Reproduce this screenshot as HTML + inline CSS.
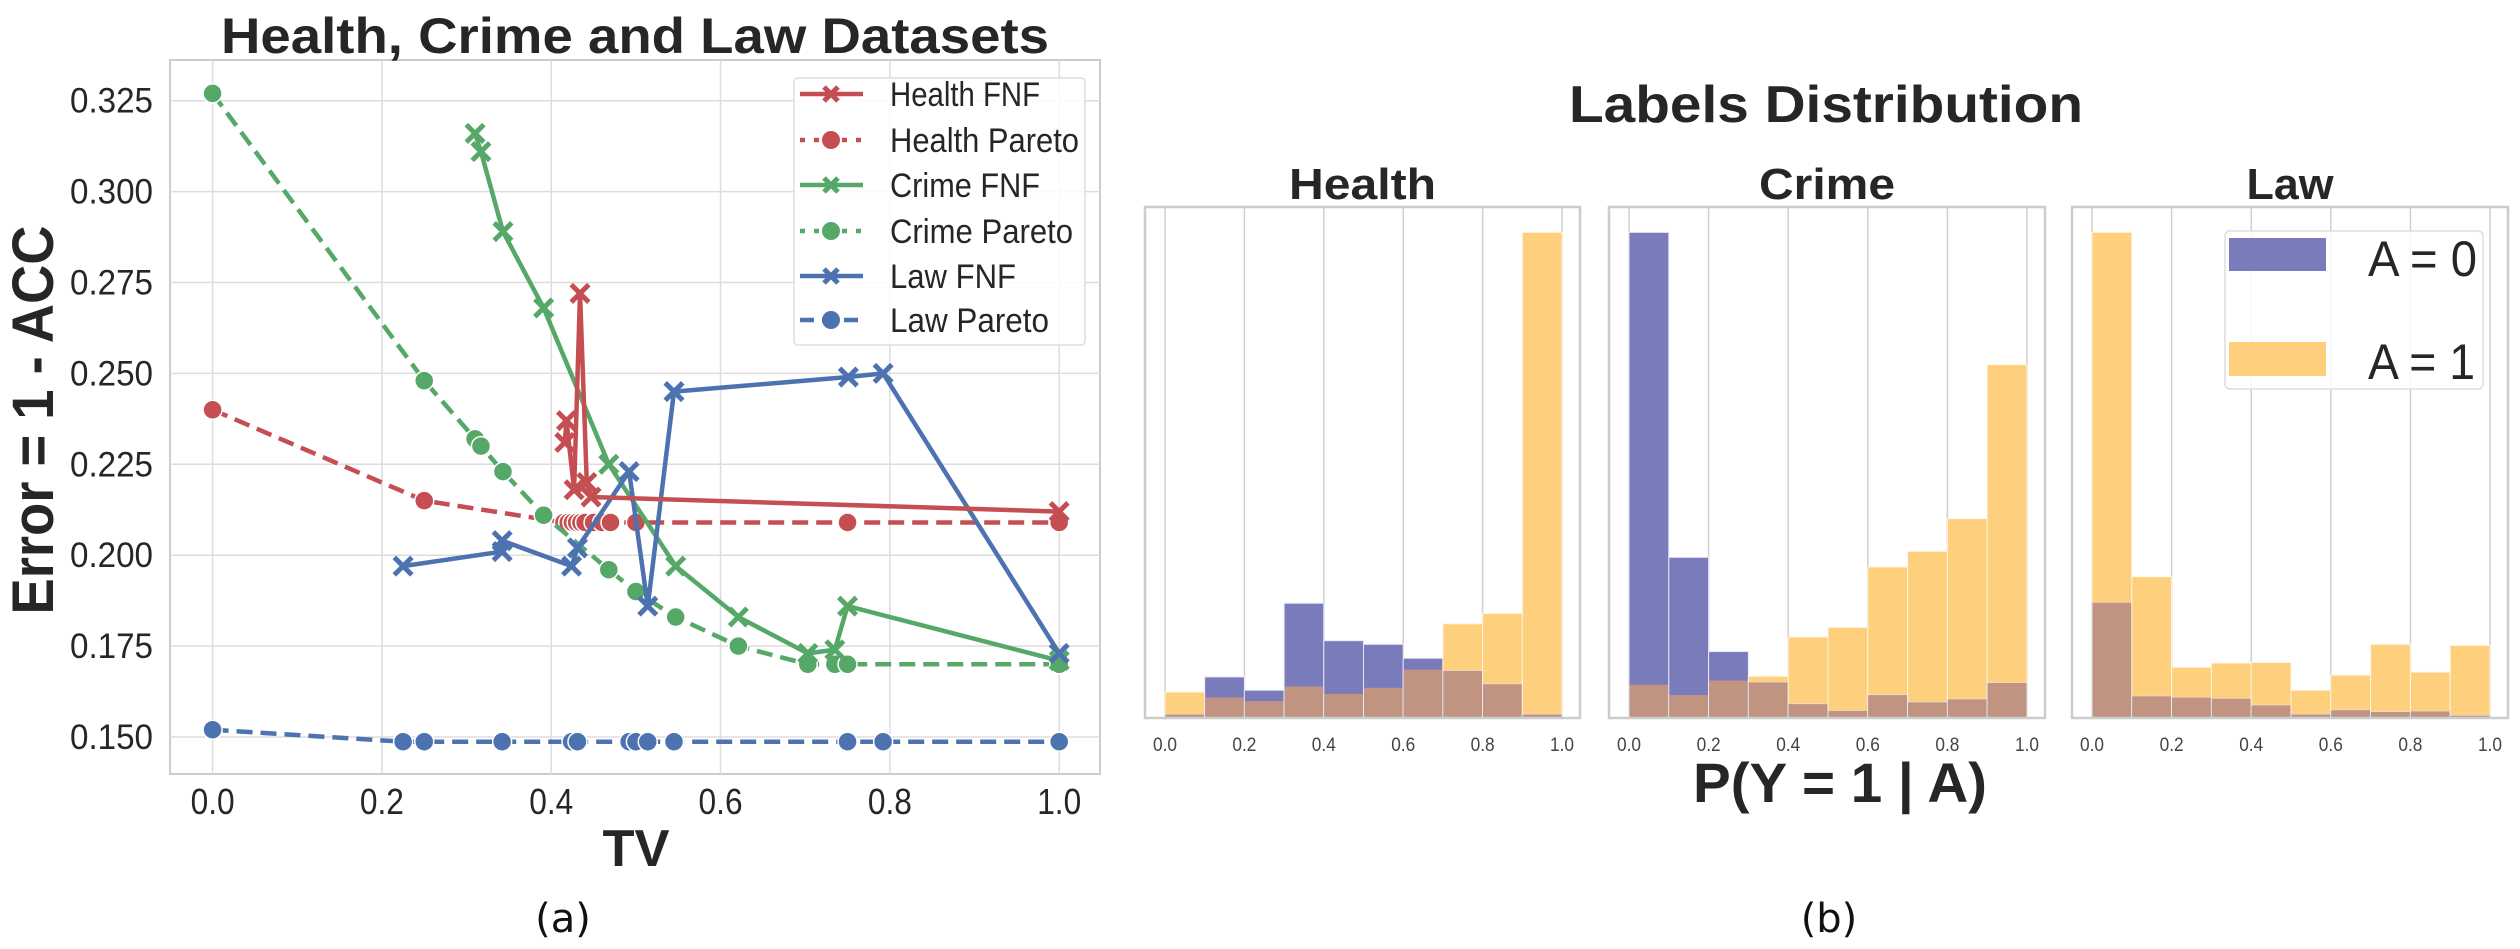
<!DOCTYPE html>
<html><head><meta charset="utf-8">
<style>
html,body{margin:0;padding:0;background:#fff;}
svg{display:block;font-family:"Liberation Sans",Arial,sans-serif;}
</style></head>
<body>
<svg id="fig" width="2520" height="949" viewBox="0 0 2520 949" xmlns="http://www.w3.org/2000/svg">
  <g id="left"></g>
  <g id="right"></g>
</svg>
<script>
// ---------- Left chart data ----------
const healthFnfX = [0.416,0.418,0.427,0.434,0.442,0.447,1.0];
const healthFnfY = [0.231,0.237,0.218,0.272,0.220,0.216,0.212];
const healthParX = [0.0,0.25,0.415,0.42,0.425,0.43,0.435,0.44,0.45,0.46,0.47,0.5,0.75,1.0];
const healthParY = [0.240,0.215,0.209,0.209,0.209,0.209,0.209,0.209,0.209,0.209,0.209,0.209,0.209,0.209];
const crimeFnfX = [0.310,0.317,0.343,0.391,0.468,0.547,0.621,0.703,0.735,0.750,1.0];
const crimeFnfY = [0.316,0.311,0.289,0.268,0.225,0.197,0.183,0.173,0.174,0.186,0.171];
const crimeParX = [0.0,0.25,0.310,0.317,0.343,0.391,0.468,0.5,0.547,0.621,0.703,0.735,0.750,1.0];
const crimeParY = [0.327,0.248,0.232,0.230,0.223,0.211,0.196,0.190,0.183,0.175,0.170,0.170,0.170,0.170];
const lawFnfX = [0.225,0.342,0.342,0.424,0.431,0.492,0.514,0.545,0.751,0.792,1.0];
const lawFnfY = [0.197,0.201,0.204,0.197,0.202,0.223,0.186,0.245,0.249,0.250,0.173];
const lawParX = [0.0,0.225,0.25,0.342,0.424,0.431,0.492,0.5,0.514,0.545,0.75,0.792,1.0];
const lawParY = [0.152,0.1487,0.1487,0.1487,0.1487,0.1487,0.1487,0.1487,0.1487,0.1487,0.1487,0.1487,0.1487];
const xTicks = [0.0,0.2,0.4,0.6,0.8,1.0];
const yTicks = [0.150,0.175,0.200,0.225,0.250,0.275,0.300,0.325];

// ---------- Right chart data (10 bins, relative heights) ----------
const binEdges = [0,0.1,0.2,0.3,0.4,0.5,0.6,0.7,0.8,0.9,1.0];
const healthA0 = [6,68,46,190,128,122,99,78,56,6];
const healthA1 = [43,34,28,52,40,50,80,156,173,804];
const crimeA0 = [804,266,110,59,23,12,38,26,31,58];
const crimeA1 = [55,38,62,69,134,150,250,276,330,585];
const lawA0 = [191,36,34,32,21,6,13,10,11,4];
const lawA1 = [804,234,84,91,92,46,71,122,76,120];
const histTicks = [0.0,0.2,0.4,0.6,0.8,1.0];

const NS="http://www.w3.org/2000/svg";
function mk(parent,tag,attrs,text){const e=document.createElementNS(NS,tag);for(const k in attrs)e.setAttribute(k,attrs[k]);if(text!==undefined)e.textContent=text;parent.appendChild(e);return e;}
function fit(el,len){el.setAttribute('textLength',len);el.setAttribute('lengthAdjust','spacingAndGlyphs');}

// ---------- Left chart ----------
const L=document.getElementById('left');
const ax={l:170,r:1100,t:60,b:774};
const sx=v=>212.6+v*846.6;
const sy=v=>737-(v-0.150)/0.025*90.9;
let e;
e=mk(L,'rect',{x:ax.l,y:ax.t,width:ax.r-ax.l,height:ax.b-ax.t,fill:'#fff',stroke:'#cccccc','stroke-width':2});


xTicks.forEach(t=>{
  e=mk(L,'line',{x1:sx(t),x2:sx(t),y1:ax.t,y2:ax.b,stroke:'#dddddd','stroke-width':1.5});
  
  
  e=mk(L,'text',{x:sx(t),y:814,'font-size':36,'text-anchor':'middle',fill:'#262626'},t.toFixed(1));
  fit(e,44);
  
  
});
yTicks.forEach(t=>{
  e=mk(L,'line',{x1:ax.l,x2:ax.r,y1:sy(t),y2:sy(t),stroke:'#dddddd','stroke-width':1.5});
  
  
  e=mk(L,'text',{x:153,y:sy(t)+12,'font-size':35,'text-anchor':'end',fill:'#262626'},t.toFixed(3));
  fit(e,83);
  
  
});
function series(xs,ys,color,dash,marker,name){
  const g=mk(L,'g',{});
  
  
  const pts=xs.map((x,i)=>sx(x)+','+sy(ys[i])).join(' ');
  const attrs={points:pts,fill:'none',stroke:color,'stroke-width':4.5,'stroke-linejoin':'round'};
  if(dash)attrs['stroke-dasharray']=dash;
  mk(g,'polyline',attrs);
  xs.forEach((x,i)=>{
    const cx=sx(x),cy=sy(ys[i]);
    if(marker==='o'){
      e=mk(g,'circle',{cx:cx,cy:cy,r:9.5,fill:color,stroke:'#fff','stroke-width':1.5});
    } else {
      e=mk(g,'path',{d:`M${cx-7},${cy-7}L${cx+7},${cy+7}M${cx-7},${cy+7}L${cx+7},${cy-7}`,stroke:color,'stroke-width':5,'stroke-linecap':'square'});
    }
    
    
  });
}
const RED='#c44e52',GREEN='#55a868',BLUE='#4c72b0';
series(healthParX,healthParY,RED,'16,8','o','health-pareto-series');
series(crimeParX,crimeParY,GREEN,'16,8','o','crime-pareto-series');
series(lawParX,lawParY,BLUE,'16,8','o','law-pareto-series');
series(crimeFnfX,crimeFnfY,GREEN,null,'x','crime-fnf-series');
series(lawFnfX,lawFnfY,BLUE,null,'x','law-fnf-series');
series(healthFnfX,healthFnfY,RED,null,'x','health-fnf-series');
// legend
const lg=mk(L,'g',{});


mk(lg,'rect',{x:794,y:78,width:291,height:267,rx:4,fill:'#fff','fill-opacity':0.85,stroke:'#dddddd','stroke-width':1.5});
const legItems=[['Health FNF',RED,null,'x',150],['Health Pareto',RED,'5,9','o',189],['Crime FNF',GREEN,null,'x',150],['Crime Pareto',GREEN,'5,9','o',183],['Law FNF',BLUE,null,'x',126],['Law Pareto',BLUE,'14,8','o',159]];
const legY=[94,140,185,231,276,320];
legItems.forEach((it,i)=>{
  const g=mk(lg,'g',{});
  
  
  const y=legY[i];
  const a={x1:800,x2:863,y1:y,y2:y,stroke:it[1],'stroke-width':4.5};
  if(it[2])a['stroke-dasharray']=it[2];
  mk(g,'line',a);
  if(it[3]==='o')mk(g,'circle',{cx:831,cy:y,r:9,fill:it[1]});
  else mk(g,'path',{d:`M824,${y-7}L838,${y+7}M824,${y+7}L838,${y-7}`,stroke:it[1],'stroke-width':5});
  const t=mk(g,'text',{x:890,y:y+12,'font-size':34,fill:'#262626'},it[0]);
  fit(t,it[4]);
});
e=mk(L,'text',{x:635,y:53,'font-size':50,'font-weight':'bold','text-anchor':'middle',fill:'#262626'},'Health, Crime and Law Datasets');
fit(e,828);


e=mk(L,'text',{x:0,y:0,'font-size':58,'font-weight':'bold','text-anchor':'middle',fill:'#262626',transform:'translate(53,420) rotate(-90)'},'Error = 1 - ACC');
fit(e,389);


e=mk(L,'text',{x:636,y:866,'font-size':52,'font-weight':'bold','text-anchor':'middle',fill:'#262626'},'TV');
fit(e,67);


e=mk(L,'text',{x:563,y:932,'font-size':40,'text-anchor':'middle',fill:'#111',style:'font-family:"DejaVu Sans",sans-serif'},'(a)');



// ---------- Right chart ----------
const R=document.getElementById('right');
const panels=[['Health',1145,1580,healthA0,healthA1,147],['Crime',1609,2045,crimeA0,crimeA1,136],['Law',2072,2508,lawA0,lawA1,87]];
const hTop=207,hBot=718,yMaxU=846;
panels.forEach(p=>{
  const [name,l,r,a0,a1,tl]=p;
  const g=mk(R,'g',{});
  
  
  const hx=v=>l+20+v*(r-l-38);
  const hy=v=>hBot-v/yMaxU*(hBot-hTop);
  mk(g,'rect',{x:l,y:hTop,width:r-l,height:hBot-hTop,fill:'#fff'});
  histTicks.forEach(t=>{
    e=mk(g,'line',{x1:hx(t),x2:hx(t),y1:hTop,y2:hBot,stroke:'#d0d0d0','stroke-width':1.5});
    
    
    e=mk(g,'text',{x:hx(t),y:751,'font-size':19,'text-anchor':'middle',fill:'#444'},t.toFixed(1));
    fit(e,24);
    
    
  });
  for(let i=0;i<10;i++){
    const x0=hx(binEdges[i]),x1=hx(binEdges[i+1]);
    const b=a0[i],o=a1[i];
    e=mk(g,'rect',{x:x0,y:hy(o),width:x1-x0,height:hBot-hy(o),fill:'#fed07e',stroke:'#fff4e0','stroke-width':1});
    
    
    e=mk(g,'rect',{x:x0,y:hy(b),width:x1-x0,height:hBot-hy(b),fill:'#7a7bba',stroke:'#e8e8f4','stroke-width':1});
    
    
    const m=Math.min(b,o);
    e=mk(g,'rect',{x:x0+0.5,y:hy(m),width:x1-x0-1,height:hBot-hy(m),fill:'#c19482'});
    
    
  }
  mk(g,'rect',{x:l,y:hTop,width:r-l,height:hBot-hTop,fill:'none',stroke:'#cccccc','stroke-width':2.5});
  e=mk(g,'text',{x:(l+r)/2,y:199,'font-size':44,'font-weight':'bold','text-anchor':'middle',fill:'#262626'},name);
  fit(e,tl);
  
  
});
// legend on Law
const rl=mk(R,'g',{});


mk(rl,'rect',{x:2225,y:231,width:258,height:158,rx:5,fill:'#fff','fill-opacity':0.85,stroke:'#dddddd','stroke-width':1.5});
mk(rl,'rect',{x:2229,y:238,width:97,height:33,fill:'#7a7bba'});
mk(rl,'rect',{x:2229,y:342,width:97,height:34,fill:'#fed07e'});
e=mk(rl,'text',{x:2368,y:276,'font-size':50,fill:'#262626'},'A = 0');
fit(e,109);


e=mk(rl,'text',{x:2368,y:379,'font-size':50,fill:'#262626'},'A = 1');
fit(e,107);


e=mk(R,'text',{x:1826,y:122,'font-size':52,'font-weight':'bold','text-anchor':'middle',fill:'#262626'},'Labels Distribution');
fit(e,514);


e=mk(R,'text',{x:1840,y:802,'font-size':56,'font-weight':'bold','text-anchor':'middle',fill:'#262626'},'P(Y = 1 | A)');
fit(e,294);


e=mk(R,'text',{x:1829,y:932,'font-size':40,'text-anchor':'middle',fill:'#111',style:'font-family:"DejaVu Sans",sans-serif'},'(b)');


</script>
</body></html>
